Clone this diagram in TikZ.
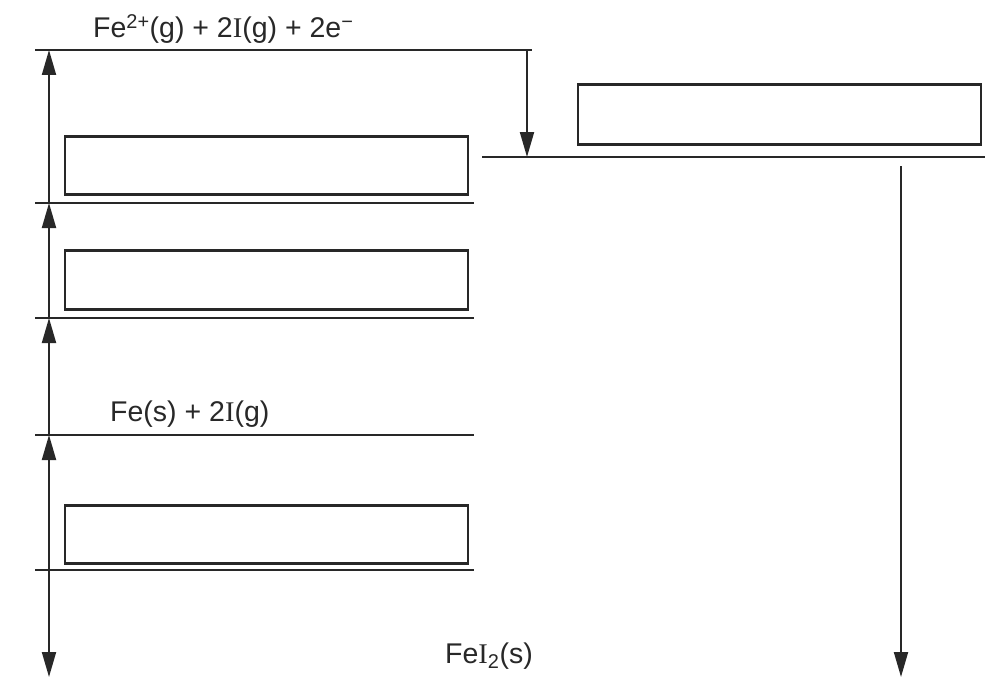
\documentclass[tikz,border=0pt]{standalone}
\usepackage{fontspec}
\setmainfont{Liberation Sans}
\newfontfamily\serifI{Liberation Serif}
\usetikzlibrary{arrows.meta}
\definecolor{ink}{RGB}{40,40,40}
\newcommand{\sI}{{\serifI I}}
\tikzset{
  level/.style={draw=ink, line width=2.2pt},
  blank/.style={draw=ink, line width=2.6pt, rectangle, inner sep=0pt, minimum width=403pt},
  arr/.style={draw=ink, line width=2pt, -{Triangle[length=25pt,width=14pt]}},
  lbl/.style={text=ink, inner sep=0pt, anchor=base west, font=\fontsize{28.5}{34}\selectfont}
}
\begin{document}
\begin{tikzpicture}[x=1pt,y=-1pt]
\useasboundingbox (0,0) rectangle (985,677);
% level endpoints
\coordinate (L1a) at (35,50);   \coordinate (L1b) at (532,50);
\coordinate (L2a) at (35,203);  \coordinate (L2b) at (474,203);
\coordinate (L3a) at (35,318);  \coordinate (L3b) at (474,318);
\coordinate (L4a) at (35,435);  \coordinate (L4b) at (474,435);
\coordinate (L5a) at (35,570);  \coordinate (L5b) at (474,570);
\coordinate (R1a) at (482,157); \coordinate (R1b) at (985,157);
% arrow ends
\coordinate (A0) at (49,50);
\coordinate (A1) at (49,203);
\coordinate (A2) at (49,318);
\coordinate (A3) at (49,435);
\coordinate (A4) at (49,570);
\coordinate (A5) at (49,677);
\coordinate (D1) at (527,50);
\coordinate (D2) at (527,157);
\coordinate (E1) at (901,166);
\coordinate (E2) at (901,677);
% levels
\draw[level] (L1a) -- (L1b);
\draw[level] (L2a) -- (L2b);
\draw[level] (L3a) -- (L3b);
\draw[level] (L4a) -- (L4b);
\draw[level] (L5a) -- (L5b);
\draw[level] (R1a) -- (R1b);
% empty boxes
\node[blank, minimum height=58pt] (bA) at (266.5,165.5) {};
\node[blank, minimum height=59pt] (bB) at (266.5,280) {};
\node[blank, minimum height=58pt] (bC) at (266.5,534.5) {};
\node[blank, minimum height=60pt] (bD) at (779.5,114.5) {};
% arrows
\draw[arr] (A1) -- (A0);
\draw[arr] (A2) -- (A1);
\draw[arr] (A3) -- (A2);
\draw[arr] (A4) -- (A3);
\draw[arr] (A4) -- (A5);
\draw[arr] (D1) -- (D2);
\draw[arr] (E1) -- (E2);
% labels
\node[lbl] (t1) at (93,38) {Fe\textsuperscript{2+}(g) + 2\sI(g) + 2e\textsuperscript{−}};
\node[lbl] (t2) at (110,421) {Fe(s) + 2\sI(g)};
\node[lbl] (t3) at (445,663) {Fe\sI\textsubscript{2}(s)};
\end{tikzpicture}
\end{document}
